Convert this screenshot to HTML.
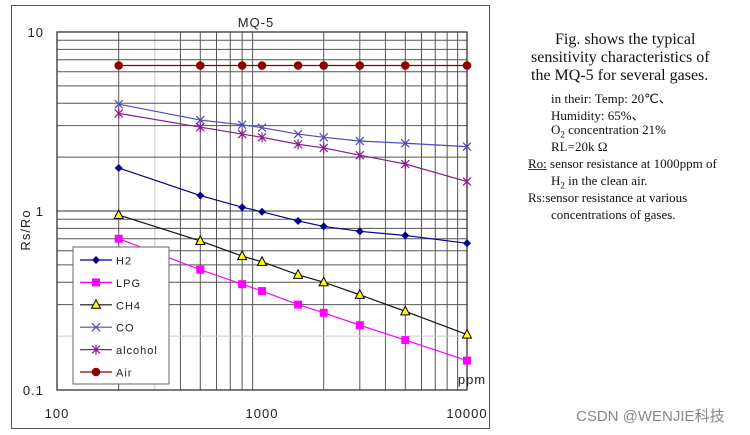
<!DOCTYPE html>
<html><head><meta charset="utf-8"><style>
body{margin:0;width:750px;height:435px;background:#fff;overflow:hidden;position:relative;font-family:"Liberation Serif",serif}
svg{position:absolute;left:0;top:0}
.t{position:absolute;white-space:nowrap;color:#111}
.big{font-size:16px}
.sm{font-size:13px}
</style></head><body>
<svg id="chart" width="750" height="435" xmlns="http://www.w3.org/2000/svg"></svg>
<div class="t big" style="left:555px;top:31px">Fig. shows the typical</div>
<div class="t big" style="left:531px;top:49px">sensitivity characteristics of</div>
<div class="t big" style="left:531px;top:67px">the MQ-5 for several gases.</div>
<div class="t sm" style="left:551px;top:88px">in their: Temp: 20℃、</div>
<div class="t sm" style="left:551px;top:105px">Humidity: 65%、</div>
<div class="t sm" style="left:551px;top:122px">O<sub style="font-size:9px">2</sub> concentration 21%</div>
<div class="t sm" style="left:551px;top:139px">RL=20k Ω</div>
<div class="t sm" style="left:528px;top:156px"><span style="text-decoration:underline;text-decoration-color:#22c">Ro:</span> sensor resistance at 1000ppm of</div>
<div class="t sm" style="left:551px;top:173px">H<sub style="font-size:9px">2</sub> in the clean air.</div>
<div class="t sm" style="left:528px;top:190px">Rs:sensor resistance at various</div>
<div class="t sm" style="left:551px;top:207px">concentrations of gases.</div>
<div class="t" style="left:576px;top:405px;font:15px 'Liberation Sans','Noto Sans CJK SC',sans-serif;color:#888">CSDN @WENJIE科技</div>
<script>
const ppm=[200,500,800,1000,1500,2000,3000,5000,10000];
const seriesNames=["H2","LPG","CH4","CO","alcohol","Air"];
const h2=[1.74,1.22,1.05,0.99,0.88,0.82,0.77,0.73,0.66];
const lpg=[0.70,0.47,0.39,0.357,0.30,0.27,0.23,0.19,0.146];
const ch4=[0.95,0.68,0.56,0.52,0.44,0.40,0.34,0.275,0.204];
const co=[3.95,3.22,3.03,2.92,2.69,2.58,2.46,2.39,2.29];
const alcohol=[3.51,2.94,2.69,2.58,2.36,2.25,2.05,1.83,1.46];
const air=[6.5,6.5,6.5,6.5,6.5,6.5,6.5,6.5,6.5];
const xTicks=["100","1000","10000"];
const yTicks=["0.1","1","10"];

const NS="http://www.w3.org/2000/svg";
const svg=document.getElementById('chart');
const L=57,R=467,T=32,B=390;
const X=v=>L+(Math.log10(v)-2)/2*(R-L);
const Y=v=>B-(Math.log10(v)+1)/2*(B-T);
function el(tag,a,parent){const e=document.createElementNS(NS,tag);for(const k in a)e.setAttribute(k,a[k]);(parent||svg).appendChild(e);return e;}
const frame=el('rect',{x:11.5,y:5.5,width:478,height:423,fill:'none',stroke:'#555','stroke-width':1});


const grid=el('g',{});


for(let d=100;d<10000;d*=10)for(let m=2;m<=9;m++){const x=X(d*m);el('line',{x1:x,x2:x,y1:T,y2:B,stroke:(d*m===300)?'#ccc':'#555','stroke-width':1},grid);}
for(let d=0.1;d<9;d*=10)for(let m=2;m<=9;m++){const y=Y(d*m);el('line',{x1:L,x2:R,y1:y,y2:y,stroke:(Math.abs(d*m-0.2)<1e-6)?'#ccc':'#555','stroke-width':1},grid);}
el('line',{x1:L,x2:R,y1:Y(1),y2:Y(1),stroke:'#333'},grid);
const plot=el('rect',{x:L,y:T,width:R-L,height:B-T,fill:'none',stroke:'#333','stroke-width':1.3});


const fnt='font-family:"Liberation Sans",sans-serif;font-size:13px;fill:#222;letter-spacing:1px';
function txt(s,x,y,anchor,name,extra){const t=el('text',{x:x,y:y,'text-anchor':anchor,style:fnt+(extra||'')});t.textContent=s;return t;}
txt('MQ-5',256,27,'middle','chart-title');
xTicks.forEach(s=>txt(s,X(+s),418,'middle','x-tick-label'));
yTicks.forEach(s=>txt(s,44,Y(+s)+5,'end','y-tick-label'));
txt('ppm',472,384,'middle','x-axis-unit');
const yt=txt('Rs/Ro',30,230,'middle','y-axis-title');yt.setAttribute('transform','rotate(-90 30 230)');
const colors=["#00008b","#ff00ff","#111","#4b4bbb","#8b1a8b","#8b0000"];
const data=[h2,lpg,ch4,co,alcohol,air];
function marker(i,x,y,g){
 const c=colors[i];
 if(i===0)el('path',{d:`M${x} ${y-4}L${x+4} ${y}L${x} ${y+4}L${x-4} ${y}Z`,fill:c},g);
 else if(i===1)el('rect',{x:x-4,y:y-4,width:8,height:8,fill:c},g);
 else if(i===2)el('path',{d:`M${x} ${y-5}L${x+4.5} ${y+3.5}L${x-4.5} ${y+3.5}Z`,fill:'#ff0',stroke:'#000'},g);
 else if(i===3){el('path',{d:`M${x-4} ${y-4}L${x+4} ${y+4}M${x-4} ${y+4}L${x+4} ${y-4}`,stroke:c,'stroke-width':1.2},g);}
 else if(i===4){el('path',{d:`M${x-4} ${y-4}L${x+4} ${y+4}M${x-4} ${y+4}L${x+4} ${y-4}M${x} ${y-5}L${x} ${y+5}`,stroke:c,'stroke-width':1.2},g);}
 else el('circle',{cx:x,cy:y,r:4.3,fill:c},g);
}
data.forEach((arr,i)=>{
 const g=el('g',{});
 
 
 el('polyline',{points:arr.map((v,k)=>X(ppm[k])+','+Y(v)).join(' '),fill:'none',stroke:colors[i],'stroke-width':1.2},g);
 arr.forEach((v,k)=>marker(i,X(ppm[k]),Y(v),g));
});
const lg=el('g',{});


el('rect',{x:73,y:247,width:96,height:137,fill:'#fff',stroke:'#666'},lg);
seriesNames.forEach((n,i)=>{
 const y=260+i*22.4;
 const e=el('g',{},lg);
 
 
 el('line',{x1:80,x2:112,y1:y,y2:y,stroke:colors[i],'stroke-width':1.2},e);
 marker(i,96,y,e);
 const t=el('text',{x:116,y:y+4.5,style:'font-family:"Liberation Sans",sans-serif;font-size:11px;fill:#222;letter-spacing:1px'},e);
 t.textContent=n;
});
</script>
</body></html>
